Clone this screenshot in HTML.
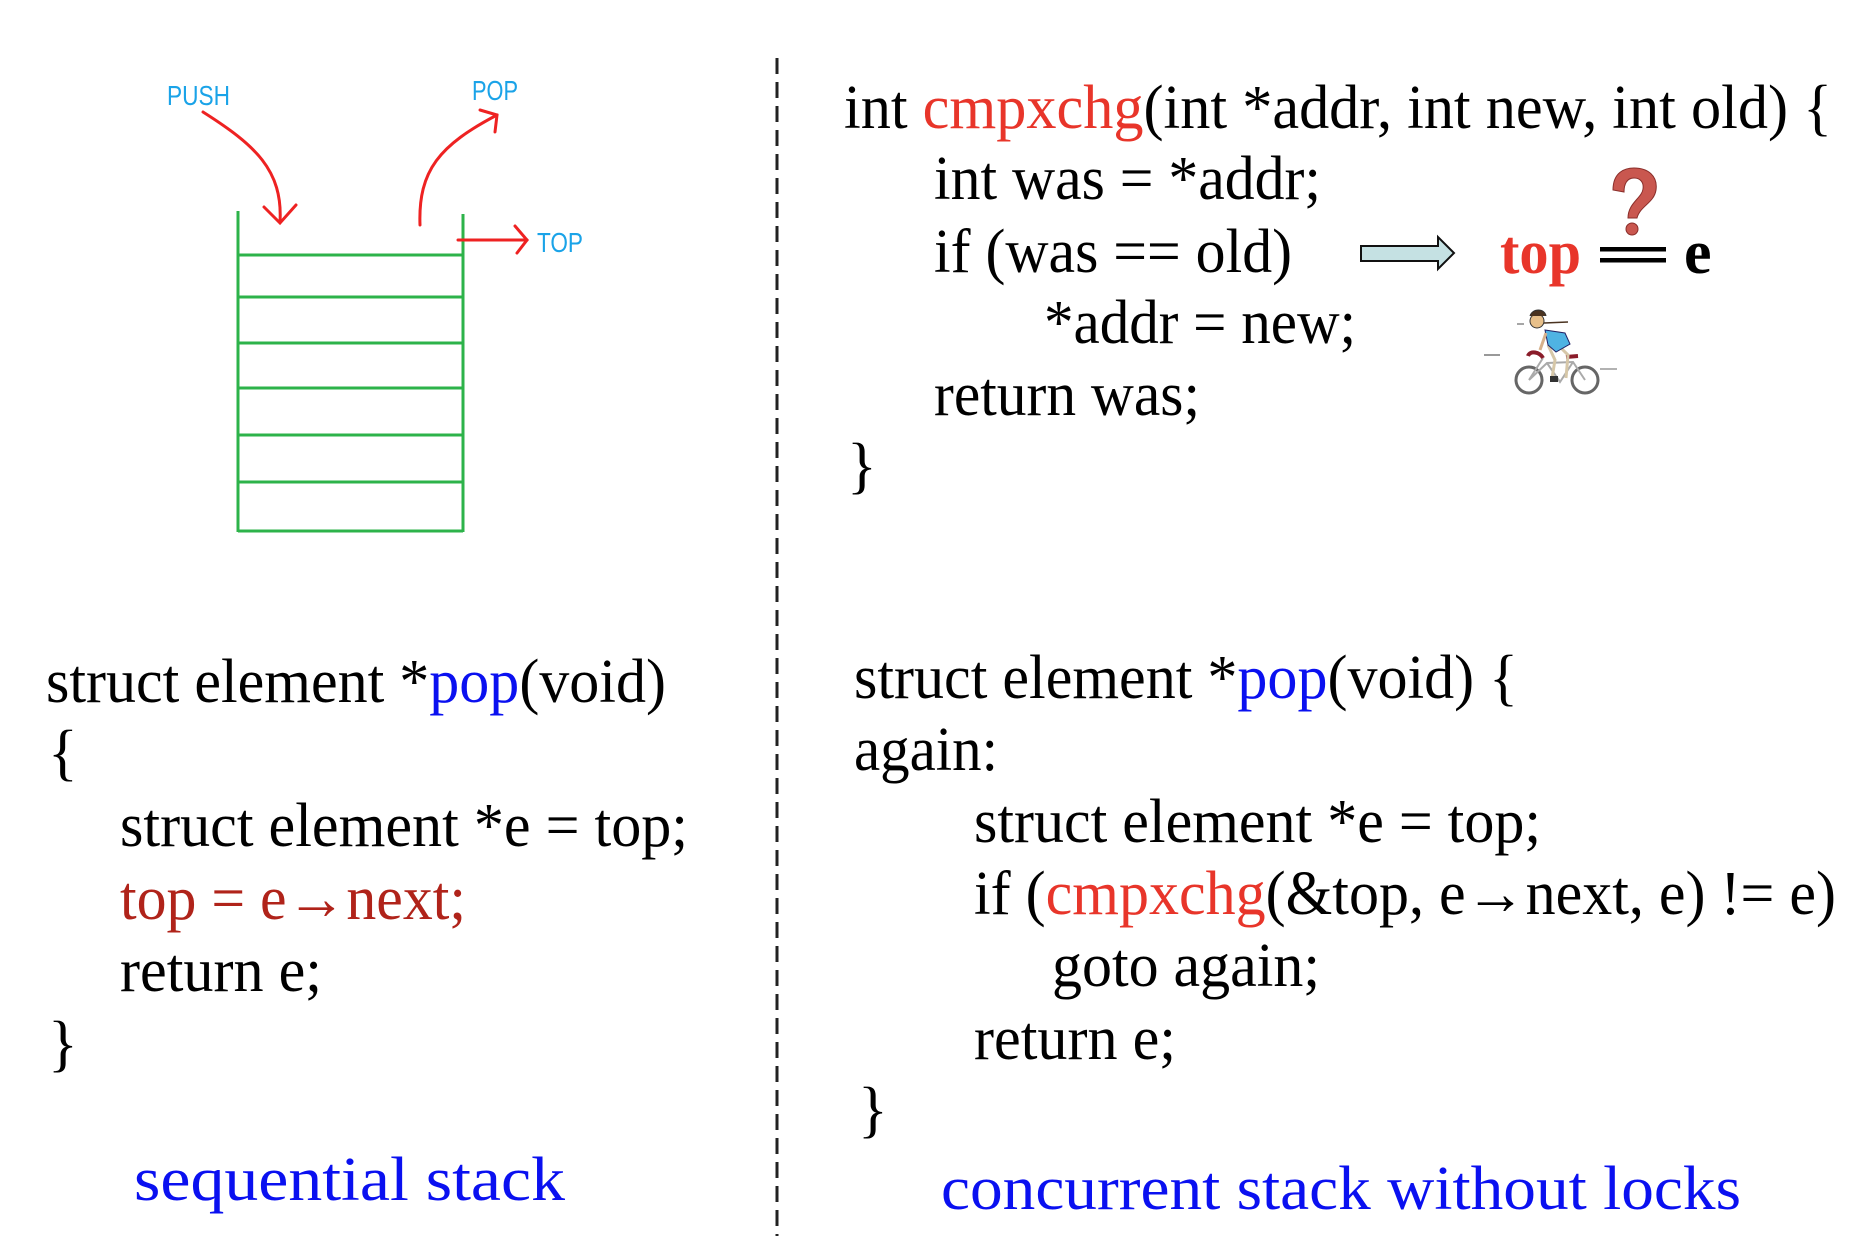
<!DOCTYPE html>
<html><head><meta charset="utf-8">
<style>
html,body{margin:0;padding:0;background:#fff;}
svg{display:block;}
.c{font-family:"Liberation Serif",serif;font-size:62px;fill:#000;}
.s{font-family:"Liberation Sans",sans-serif;font-size:28px;fill:#1aa3e8;}
</style></head><body>
<svg width="1874" height="1248" viewBox="0 0 1874 1248" xmlns="http://www.w3.org/2000/svg">
<rect width="1874" height="1248" fill="#fff"/>
<line x1="777" y1="58" x2="777" y2="1236" stroke="#222" stroke-width="3" stroke-dasharray="16,8"/>

<g stroke="#2db34a" stroke-width="3" fill="none">
<line x1="238" y1="211" x2="238" y2="532"/>
<line x1="463" y1="214" x2="463" y2="532"/>
<line x1="238" y1="255" x2="463" y2="255"/>
<line x1="238" y1="297" x2="463" y2="297"/>
<line x1="238" y1="343" x2="463" y2="343"/>
<line x1="238" y1="388" x2="463" y2="388"/>
<line x1="238" y1="435" x2="463" y2="435"/>
<line x1="238" y1="482" x2="463" y2="482"/>
<line x1="238" y1="531" x2="463" y2="531"/>
</g>
<g stroke="#ee2222" stroke-width="3" fill="none" stroke-linecap="round">
<path d="M203,112 C255,145 283,170 280,222"/>
<path d="M264,207 L280,223 L296,205"/>
<path d="M420,225 C418,170 440,145 497,115"/>
<path d="M480,110 L497,115 L495,132"/>
<path d="M458,240 L527,240"/>
<path d="M515,226 L527,240 L517,253"/>
</g>
<text class="s" x="167" y="105" textLength="63" lengthAdjust="spacingAndGlyphs">PUSH</text>
<text class="s" x="472" y="100" textLength="46" lengthAdjust="spacingAndGlyphs">POP</text>
<text class="s" x="537" y="252" textLength="46" lengthAdjust="spacingAndGlyphs">TOP</text>

<text class="c" x="844" y="128" textLength="988" lengthAdjust="spacingAndGlyphs">int <tspan fill="#e8352a">cmpxchg</tspan>(int *addr, int new, int old) {</text>
<text class="c" x="934" y="199" textLength="387" lengthAdjust="spacingAndGlyphs">int was = *addr;</text>
<text class="c" x="934" y="272" textLength="358" lengthAdjust="spacingAndGlyphs">if (was == old)</text>
<text class="c" x="1044" y="343" textLength="312" lengthAdjust="spacingAndGlyphs">*addr = new;</text>
<text class="c" x="934" y="415" textLength="266" lengthAdjust="spacingAndGlyphs">return was;</text>
<text class="c" x="847" y="486">}</text>

<path d="M1361,246 L1438,246 L1438,237 L1454,253 L1438,269 L1438,261 L1361,261 Z" fill="#c5e1e3" stroke="#111" stroke-width="2"/>

<text x="1500" y="273" font-family="Liberation Serif,serif" font-weight="bold" font-size="62" fill="#e8352a" textLength="81" lengthAdjust="spacingAndGlyphs">top</text>
<rect x="1600" y="247" width="66" height="4.5" fill="#000"/>
<rect x="1600" y="258" width="66" height="4.5" fill="#000"/>
<text x="1684" y="273" font-family="Liberation Serif,serif" font-weight="bold" font-size="62" fill="#000">e</text>
<path d="M1613,190 C1613,172 1625,168 1634,168 C1648,168 1658,176 1656,190 C1654,203 1640,206 1637,218 L1628,218 C1628,203 1642,198 1643,189 C1644,182 1640,178 1634,178 C1627,178 1624,184 1624,192 Z" fill="#c9574f" stroke="#8a2e2a" stroke-width="1"/>
<circle cx="1632" cy="229" r="6" fill="#c9574f" stroke="#8a2e2a" stroke-width="1"/>

<g>
<line x1="1484" y1="355" x2="1500" y2="355" stroke="#999" stroke-width="2"/>
<line x1="1600" y1="369" x2="1617" y2="369" stroke="#999" stroke-width="1.5"/>
<line x1="1517" y1="324" x2="1524" y2="324" stroke="#888" stroke-width="1.5"/>
<circle cx="1529" cy="380" r="13" fill="none" stroke="#666" stroke-width="3"/>
<circle cx="1585" cy="380" r="13" fill="none" stroke="#666" stroke-width="3"/>
<path d="M1529,380 L1547,363 L1573,362 L1585,380 M1547,363 L1560,382 L1573,362 M1543,358 L1529,380" stroke="#aaa" stroke-width="2" fill="none"/>
<path d="M1528,356 C1530,350 1540,352 1543,358" stroke="#8a1c2a" stroke-width="4" fill="none"/>
<path d="M1566,357 L1578,356" stroke="#8a1c2a" stroke-width="4"/>
<path d="M1548,345 L1555,360 L1552,378 M1558,345 L1568,355 L1566,378" stroke="#d6c7a8" stroke-width="3" fill="none"/>
<path d="M1545,330 L1565,333 L1570,344 L1556,352 L1548,345 Z" fill="#4fb3e3" stroke="#226" stroke-width="1"/>
<path d="M1546,333 L1540,350" stroke="#d6b08a" stroke-width="3"/>
<circle cx="1537" cy="321" r="7" fill="#e8c08a" stroke="#333" stroke-width="1"/>
<path d="M1530,316 C1532,308 1545,308 1546,316" fill="#4a3320" stroke="#333" stroke-width="1"/>
<line x1="1544" y1="323" x2="1568" y2="322" stroke="#4a3320" stroke-width="1.5"/>
<rect x="1550" y="376" width="8" height="6" fill="#333"/>
</g>

<text class="c" x="46" y="702" textLength="620" lengthAdjust="spacingAndGlyphs">struct element *<tspan fill="#0a10f0">pop</tspan>(void)</text>
<text class="c" x="48" y="773">{</text>
<text class="c" x="120" y="846" textLength="568" lengthAdjust="spacingAndGlyphs">struct element *e = top;</text>
<text class="c" x="120" y="919" style="fill:#b0231a" textLength="346" lengthAdjust="spacingAndGlyphs">top = e→next;</text>
<text class="c" x="120" y="991" textLength="202" lengthAdjust="spacingAndGlyphs">return e;</text>
<text class="c" x="48" y="1064">}</text>
<text class="c" x="134" y="1200" style="fill:#0a10f0" textLength="431" lengthAdjust="spacingAndGlyphs">sequential  stack</text>

<text class="c" x="854" y="698" textLength="664" lengthAdjust="spacingAndGlyphs">struct element *<tspan fill="#0a10f0">pop</tspan>(void) {</text>
<text class="c" x="854" y="770" textLength="144" lengthAdjust="spacingAndGlyphs">again:</text>
<text class="c" x="974" y="842" textLength="567" lengthAdjust="spacingAndGlyphs">struct element *e = top;</text>
<text class="c" x="974" y="914" textLength="862" lengthAdjust="spacingAndGlyphs">if (<tspan fill="#e8352a">cmpxchg</tspan>(&amp;top, e→next, e) != e)</text>
<text class="c" x="1052" y="986" textLength="268" lengthAdjust="spacingAndGlyphs">goto again;</text>
<text class="c" x="974" y="1059" textLength="202" lengthAdjust="spacingAndGlyphs">return e;</text>
<text class="c" x="858" y="1130">}</text>
<text class="c" x="941" y="1209" style="fill:#0a10f0" textLength="800" lengthAdjust="spacingAndGlyphs">concurrent stack without locks</text>
</svg>
</body></html>
